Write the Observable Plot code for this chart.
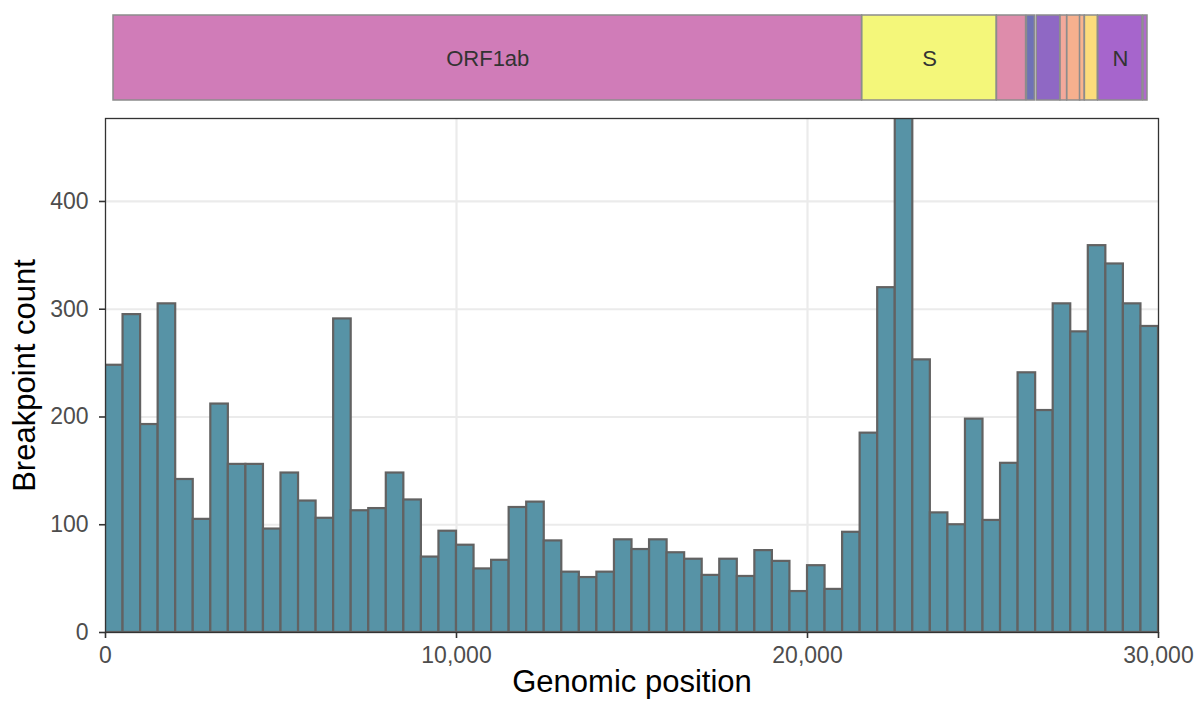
<!DOCTYPE html>
<html>
<head>
<meta charset="utf-8">
<script src="https://cdn.jsdelivr.net/npm/d3@7"></script>
<script src="https://cdn.jsdelivr.net/npm/@observablehq/plot@0.6"></script>
<style>
  html, body { margin: 0; padding: 0; background: #fff; }
  #chart { width: 1199px; }
  #chart svg { display: block; }
</style>
</head>
<body>
<div id="chart"></div>
<script>
// Genome annotation (SARS-CoV-2 open reading frames)
const geneNames  = ["ORF1ab", "S", "ORF3a", "E", "M", "ORF6", "ORF7a", "ORF7b", "ORF8", "N", "ORF10"];
const geneStart  = [266, 21563, 25393, 26245, 26523, 27202, 27394, 27756, 27894, 28274, 29558];
const geneEnd    = [21555, 25384, 26220, 26472, 27191, 27387, 27759, 27887, 28259, 29533, 29674];
const geneColors = ["#d07cb8", "#f4f77a", "#de8cab", "#6e72b6", "#8f68c4", "#f3a99b",
                    "#f7b08e", "#f8b48f", "#fcdc7c", "#a665cc", "#b06acc"];
const labelledGenes = ["ORF1ab", "S", "N"];

// Breakpoint histogram: 500-nt bins over the genome
const binWidth = 500;
const binStart = d3.range(0, 30000, binWidth);
const breakpointCounts = [
  248, 295, 193, 305, 142, 105, 212, 156, 156, 96,
  148, 122, 106, 291, 113, 115, 148, 123, 70, 94,
  81, 59, 67, 116, 121, 85, 56, 51, 56, 86,
  77, 86, 74, 68, 53, 68, 52, 76, 66, 38,
  62, 40, 93, 185, 320, 477, 253, 111, 100, 198,
  104, 157, 241, 206, 305, 279, 359, 342, 305, 284
];
const xTicks = [0, 10000, 20000, 30000];
const yTicks = [0, 100, 200, 300, 400];

const genes = geneNames.map((name, i) => ({
  name, start: geneStart[i], end: geneEnd[i], color: geneColors[i]
}));
const bins = binStart.map((s, i) => ({ x1: s, x2: s + binWidth, count: breakpointCounts[i] }));

const font = "'Liberation Sans', Arial, Helvetica, sans-serif";

// Gene track above the histogram
const track = Plot.plot({
  width: 1199,
  height: 105,
  marginLeft: 113,
  marginRight: 52,
  marginTop: 15,
  marginBottom: 5,
  style: { fontFamily: font, background: "#fff" },
  x: { domain: [d3.min(geneStart), d3.max(geneEnd)], axis: null },
  y: { domain: [0, 1], axis: null },
  color: { type: "identity" },
  marks: [
    Plot.rect(genes, {
      x1: "start", x2: "end", y1: 0, y2: 1,
      fill: "color", stroke: "#8c8c8c", strokeWidth: 1.5
    }),
    Plot.text(genes.filter(d => labelledGenes.includes(d.name)), {
      x: d => (d.start + d.end) / 2, y: 0.5, dy: 1,
      text: "name", fill: "#333333", fontSize: 22
    })
  ]
});

// Histogram of breakpoint counts
const hist = Plot.plot({
  width: 1199,
  height: 600,
  marginLeft: 105,
  marginRight: 41,
  marginTop: 13,
  marginBottom: 73,
  style: { fontFamily: font, background: "#fff" },
  x: { domain: [0, 30000], axis: null },
  y: { domain: [0, 477], axis: null },
  marks: [
    Plot.gridX([10000, 20000], { stroke: "#ebebeb", strokeWidth: 2.2, strokeOpacity: 1 }),
    Plot.gridY([100, 200, 300, 400], { stroke: "#ebebeb", strokeWidth: 2.2, strokeOpacity: 1 }),
    Plot.rectY(bins, {
      x1: "x1", x2: "x2", y: "count",
      fill: "#5793a6", stroke: "#626262", strokeWidth: 2.2, clip: true
    }),
    Plot.frame({ stroke: "#333333", strokeWidth: 1.3 }),
    Plot.axisX(xTicks, {
      tickFormat: d3.format(","), tickSize: 6, tickPadding: 8,
      fontSize: 23, stroke: "#333333", strokeWidth: 1.6, fill: "#4d4d4d", label: null
    }),
    Plot.axisY(yTicks, {
      tickSize: 6, tickPadding: 11,
      fontSize: 23, stroke: "#333333", strokeWidth: 1.6, fill: "#4d4d4d", label: null
    }),
    Plot.text(["Genomic position"], {
      frameAnchor: "bottom", dy: 59, fontSize: 31, fill: "#000"
    }),
    Plot.text(["Breakpoint count"], {
      frameAnchor: "left", textAnchor: "middle", dx: -80, rotate: -90, fontSize: 31, fill: "#000"
    })
  ]
});

const root = document.getElementById("chart");
root.appendChild(track);
root.appendChild(hist);
</script>
</body>
</html>
